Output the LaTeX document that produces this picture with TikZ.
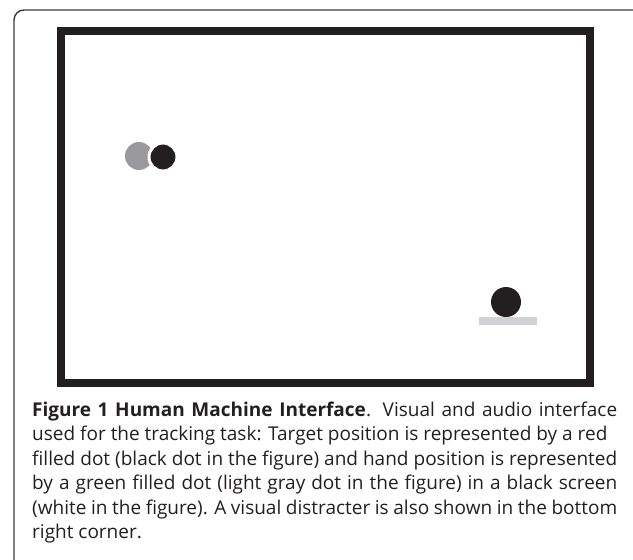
\documentclass[tikz,border=0pt]{standalone}
\usepackage{fontspec}
\setmainfont{Open Sans}
\definecolor{ink}{HTML}{231F20}
\definecolor{handgray}{HTML}{9A9A9C}
\definecolor{bargray}{HTML}{D1D2D4}
\definecolor{bordergray}{HTML}{3A3A3A}
\newcommand{\fullline}[1]{\makebox[585pt][s]{#1}}
\begin{document}
\begin{tikzpicture}[x=1pt,y=-1pt,
  capline/.style={anchor=base west,inner sep=0pt,text=ink,font=\fontsize{19}{24.5}\selectfont},
  dotshape/.style={circle,inner sep=0pt,minimum size=28pt}]
\useasboundingbox (0,0) rectangle (633,560);
% outer rounded panel border
\draw[bordergray,line width=1.4pt,rounded corners=10pt] (14,580) -- (14,10) -- (648,10) -- (648,580);
% screen frame
\node[draw=ink,line width=8pt,minimum width=529pt,minimum height=352.5pt,inner sep=0pt] (screen) at (325.5,206.75) {};
% hand (gray) and target (black) dots
\node[dotshape,fill=handgray] (hand) at (139,156) {};
\node[dotshape,fill=ink,draw=white,line width=3pt,minimum size=28pt] (target) at (163,157) {};
% distracter
\node[dotshape,fill=ink,minimum size=30pt] (distdot) at (506,302) {};
\node[fill=bargray,inner sep=0pt,minimum width=58pt,minimum height=7.5pt,anchor=north] (distbar) at (508,317) {};
% caption
\node[capline] (cap1) at (32,416) {\fullline{\textbf{Figure 1 Human Machine Interface}. Visual and audio interface}};
\node[capline] (cap2) at (32,440.5) {used for the tracking task: Target position is represented by a red};
\node[capline] (cap3) at (32,465) {\fullline{filled dot (black dot in the figure) and hand position is represented}};
\node[capline] (cap4) at (32,489.5) {\fullline{by a green filled dot (light gray dot in the figure) in a black screen}};
\node[capline] (cap5) at (32,514) {\fullline{(white in the figure). A visual distracter is also shown in the bottom}};
\node[capline] (cap6) at (32,538.5) {right corner.};
\end{tikzpicture}
\end{document}
